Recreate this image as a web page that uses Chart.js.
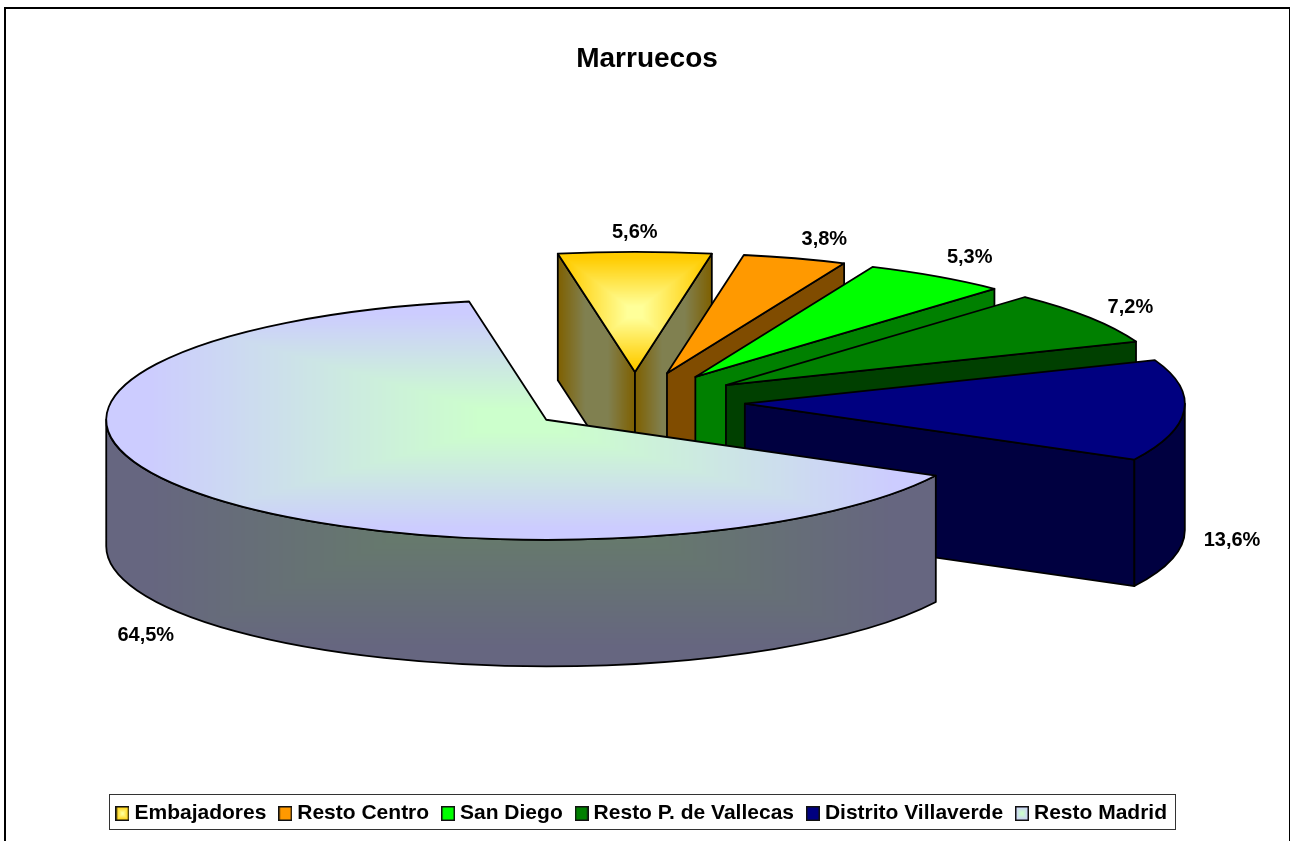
<!DOCTYPE html>
<html>
<head>
<meta charset="utf-8">
<title>Marruecos</title>
<script src="https://cdn.jsdelivr.net/npm/chart.js@4"></script>
<style>
html,body{margin:0;padding:0;background:#fff;overflow:hidden}
canvas{display:block}
</style>
</head>
<body>
<canvas id="c" width="1290" height="841"></canvas>
<script>
const titleText = 'Marruecos';
const categories = ['Embajadores','Resto Centro','San Diego','Resto P. de Vallecas','Distrito Villaverde','Resto Madrid'];
const values = [5.6,3.8,5.3,7.2,13.6,64.5];
const faceEdge = ['#FFCC00','#FF9900','#00FF00','#008000','#000080','#CCCCFF'];
const faceCenter = ['#FFFF99','#FF9900','#00FF00','#008000','#000080','#CCFFCC'];
const wallEdge = ['#7F6000','#804C00','#008000','#004000','#000040','#666680'];
const wallCenter = ['#808050','#804C00','#008000','#004000','#000040','#668066'];
const wallMode = ['x','rect','rect','rect','rect','rect'];
const labelNudgeX = [0,12,0,-9,-12,3];
const labelNudgeY = [-3,-3.6,-5,-1,2.5,9];

const PIE = {cx:635, cy:402, radius:440, squash:0.273, depth:126.5, explode:110, line:1.8, labelR:610};
const FONT = '"Liberation Sans", Arial, sans-serif';

function rgb(h){return [1,3,5].map(i=>parseInt(h.slice(i,i+2),16));}
function gradCanvas(edge,center,mode,w,h){
  h=h||w;
  const c=document.createElement('canvas');c.width=w;c.height=h;
  const g=c.getContext('2d'),im=g.createImageData(w,h),a=rgb(edge),b=rgb(center);
  for(let j=0;j<h;j++)for(let i=0;i<w;i++){
    const u=Math.abs((i+.5)/w*2-1),v=Math.abs((j+.5)/h*2-1);
    const t=mode==='x'?Math.min(1,Math.max(0,(u-.3)/.7)):Math.min(1,Math.max(0,(Math.max(u,v)-.1)/.8));
    const p=(j*w+i)*4;
    for(let k=0;k<3;k++)im.data[p+k]=Math.round(b[k]+(a[k]-b[k])*t);
    im.data[p+3]=255;
  }
  g.putImageData(im,0,0);return c;
}
function patternFor(ctx,edge,center,mode,box){
  if(edge===center)return edge;
  const n=200,p=ctx.createPattern(gradCanvas(edge,center,mode,n),'repeat');
  p.setTransform(new DOMMatrix().translate(box.x,box.y).scale(box.w/n,box.h/n));
  return p;
}
function swatch(edge,center){
  const w=14,h=15,c=gradCanvas(edge,center,'rect',w,h),g=c.getContext('2d');
  g.strokeStyle='#111';g.lineWidth=1.5;g.strokeRect(.75,.75,w-1.5,h-1.5);
  return c;
}
function arcBox(a0,a1,R){
  const pts=[[0,0],[R*Math.cos(a0),R*Math.sin(a0)],[R*Math.cos(a1),R*Math.sin(a1)]];
  for(let k=-4;k<=8;k++){const a=k*Math.PI/2;if(a>a0&&a<a1)pts.push([R*Math.cos(a),R*Math.sin(a)]);}
  const xs=pts.map(p=>p[0]),ys=pts.map(p=>p[1]);
  const x=Math.min(...xs),y=Math.min(...ys);
  return {x,y,w:Math.max(...xs)-x,h:Math.max(...ys)-y};
}
function drawSlice3D(el,i,ctx){
  const {x,y,startAngle:a0,endAngle:a1,outerRadius:R}=el;
  const P=PIE,mid=(a0+a1)/2;
  const ox=P.cx+P.explode*Math.cos(mid),oy=P.cy+P.explode*Math.sin(mid)*P.squash;
  const rx=R,ry=R*P.squash,D=P.depth;
  const pt=a=>[ox+rx*Math.cos(a),oy+ry*Math.sin(a)];
  ctx.save();
  ctx.lineWidth=P.line;ctx.strokeStyle='#000';ctx.lineJoin='round';
  const wall=(a)=>{
    const e=pt(a),xs=[ox,e[0]],ys=[oy,e[1],oy+D,e[1]+D];
    const bx=Math.min(...xs),by=Math.min(...ys);
    ctx.beginPath();ctx.moveTo(ox,oy);ctx.lineTo(e[0],e[1]);ctx.lineTo(e[0],e[1]+D);ctx.lineTo(ox,oy+D);ctx.closePath();
    ctx.fillStyle=patternFor(ctx,wallEdge[i],wallCenter[i],wallMode[i],{x:bx,y:by,w:Math.max(...xs)-bx,h:Math.max(...ys)-by});
    ctx.fill();ctx.stroke();
  };
  if(Math.cos(a0)<0)wall(a0);
  if(Math.cos(a1)>0)wall(a1);
  const lo=Math.max(a0,0),hi=Math.min(a1,Math.PI);
  if(hi>lo){
    const fb=arcBox(a0,a1,R);
    ctx.beginPath();
    ctx.ellipse(ox,oy,rx,ry,0,lo,hi);
    ctx.ellipse(ox,oy+D,rx,ry,0,hi,lo,true);
    ctx.closePath();
    ctx.fillStyle=patternFor(ctx,wallEdge[i],wallCenter[i],wallMode[i],{x:ox+fb.x,y:oy+fb.y*P.squash,w:fb.w,h:fb.h*P.squash+D});
    ctx.fill();ctx.stroke();
  }
  // top face: the library's own arc, in the flattened plane
  const box=arcBox(a0,a1,R);
  const saved=el.options;
  const o=Object.create(saved);
  ctx.save();
  ctx.translate(ox,oy);ctx.scale(1,P.squash);ctx.translate(-x,-y);
  o.backgroundColor=patternFor(ctx,faceEdge[i],faceCenter[i],'rect',{x:x+box.x,y:y+box.y,w:box.w,h:box.h});
  el.options=o;
  Chart.ArcElement.prototype.draw.call(el,ctx);
  el.options=saved;
  ctx.restore();
  ctx.beginPath();
  ctx.moveTo(ox,oy);
  ctx.ellipse(ox,oy,rx,ry,0,a0,a1);
  ctx.closePath();
  ctx.stroke();
  ctx.restore();
}
const pie3d={
  id:'pie3d',
  beforeDraw(chart){
    const c=chart.ctx;
    c.save();c.fillStyle='#fff';c.fillRect(0,0,chart.width,chart.height);
    c.strokeStyle='#000';c.lineWidth=2;c.strokeRect(5,8,1285,900);
    const hb=chart.legend.legendHitBoxes,f=hb[0],l=hb[hb.length-1];
    c.lineWidth=1;c.strokeStyle='#333';
    const L=Math.round(f.left)-12,Rr=Math.round(l.left+l.width)+8;
    c.strokeRect(L+.5,794.5,Rr-L,35);
    c.restore();
  },
  afterLayout(chart){chart.titleBlock.left+=3;chart.titleBlock.right+=3;},
  beforeDatasetsDraw(chart){
    chart.getDatasetMeta(0).data.forEach((el,i)=>{
      el.draw=function(ctx){drawSlice3D(this,i,ctx);};
    });
  },
  afterDatasetsDraw(chart){
    const c=chart.ctx,P=PIE;
    c.save();
    c.font='bold 20px '+FONT;c.fillStyle='#000';c.textAlign='center';c.textBaseline='middle';
    chart.getDatasetMeta(0).data.forEach((el,i)=>{
      const mid=(el.startAngle+el.endAngle)/2;
      const front=Math.sin(mid)>0||Math.cos(mid)>0&&Math.sin(mid)>-0.01;
      const X=P.cx+P.labelR*Math.cos(mid)+labelNudgeX[i];
      const Y=P.cy+P.labelR*Math.sin(mid)*P.squash+(front?P.depth:0)+labelNudgeY[i];
      c.fillText(values[i].toFixed(1).replace('.',',')+'%',X,Y);
    });
    c.restore();
  }
};
new Chart(document.getElementById('c'),{
  type:'pie',
  data:{labels:categories,datasets:[{data:values,backgroundColor:faceEdge,borderWidth:0,clip:false}]},
  options:{
    responsive:false,animation:false,events:[],
    rotation:-10.1,radius:PIE.radius,
    layout:{padding:{left:0,right:2,top:0,bottom:7}},
    plugins:{
      tooltip:{enabled:false},
      title:{display:true,text:titleText,color:'#000',font:{family:FONT,size:28,weight:'bold'},padding:{top:42,bottom:10}},
      legend:{display:true,position:'bottom',
        labels:{color:'#000',font:{family:FONT,size:21,weight:'bold'},usePointStyle:true,pointStyleWidth:3,padding:17.4,
          generateLabels(chart){
            const base=Chart.overrides.pie.plugins.legend.labels.generateLabels(chart);
            base.forEach((it,i)=>{it.pointStyle=swatch(faceEdge[i],faceCenter[i]);it.lineWidth=0;});
            return base;
          }}}
    }
  },
  plugins:[pie3d]
});
</script>
</body>
</html>
